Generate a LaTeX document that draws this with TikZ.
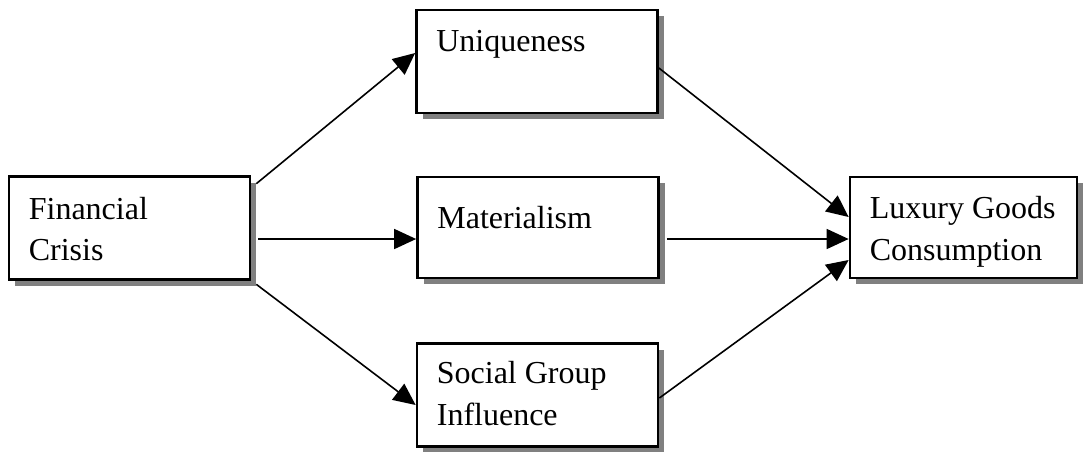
\documentclass[tikz,border=0pt]{standalone}
\usepackage{fontspec}
\setmainfont{Liberation Serif}
\usetikzlibrary{arrows.meta,shadows}

\begin{document}
\begin{tikzpicture}[x=1pt, y=-1pt,
    font=\fontsize{32}{41.5}\selectfont,
    box/.style={rectangle, draw, line width=2.7pt, fill=white, inner sep=0pt,
        minimum width=241pt, minimum height=103pt,
        drop shadow={shadow xshift=6pt, shadow yshift=-6pt, fill=black!50, opacity=1}},
    txt/.style={anchor=base west, align=left, inner sep=0pt, xshift=21pt},
    arrow/.style={-{Triangle[length=22pt, width=20pt]}, line width=1.6pt}]

    \useasboundingbox (0,0) rectangle (1084,451);

    % Cause (base of two-line labels is the last line)
    \node[box, label={[txt, yshift=-85.5pt]north west:Financial\\Crisis}] (fin) at (129.5, 228) {};

    % Mediators
    \node[box, label={[txt, yshift=-43pt]north west:Uniqueness}] (uniq) at (537, 61.5) {};
    \node[box, minimum height=101pt, label={[txt, yshift=-53pt]north west:Materialism}] (mat) at (538, 227.5) {};
    \node[box, label={[txt, yshift=-83pt]north west:Social Group\\Influence}] (soc) at (537.5, 395) {};

    % Outcome
    \node[box, minimum width=227pt, minimum height=101pt,
        label={[txt, yshift=-84.5pt]north west:Luxury Goods\\Consumption}] (lux) at (963.5, 227.5) {};

    % Arrows
    \draw[arrow] ([xshift=5pt, yshift=-8.5pt]fin.north east) -- ([yshift=8.5pt]uniq.west);
    \draw[arrow] ([xshift=7pt, yshift=-11pt]fin.east) -- ([yshift=-11.5pt]mat.west);
    \draw[arrow] ([xshift=5pt, yshift=-3.5pt]fin.south east) -- ([yshift=-10pt]soc.west);
    \draw[arrow] ([yshift=-6.5pt]uniq.east) -- ([yshift=10.5pt]lux.west);
    \draw[arrow] ([xshift=7pt, yshift=-11.5pt]mat.east) -- ([yshift=-11.5pt]lux.west);
    \draw[arrow] ([yshift=-3pt]soc.east) -- ([yshift=-32.5pt]lux.west);

\end{tikzpicture}
\end{document}
